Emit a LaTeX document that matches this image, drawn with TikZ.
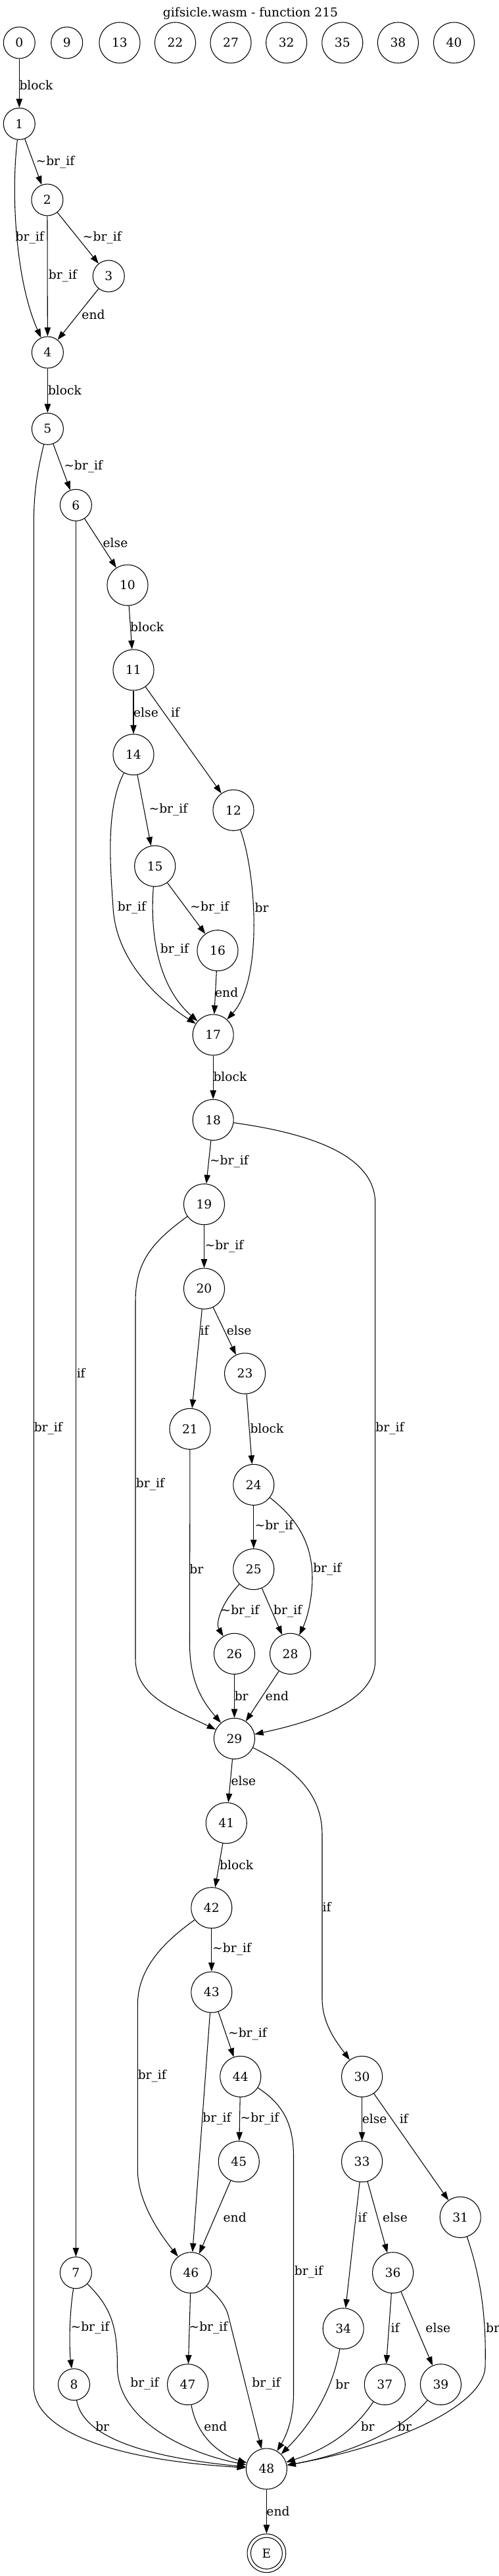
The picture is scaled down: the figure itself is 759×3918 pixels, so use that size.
\documentclass[tikz,border=0pt]{standalone}
\usepackage{fontspec}
\setmainfont{DejaVu Serif}
\usetikzlibrary{arrows.meta}

\newcommand{\nbrif}{\textasciitilde br\_if}
\newcommand{\brif}{br\_if}

\begin{document}
\begin{tikzpicture}[
        x=0.75pt, y=0.75pt,
        font=\fontsize{14pt}{16pt}\selectfont,
        blk/.style={circle,draw,line width=0.8pt,minimum size=36pt,inner sep=0pt},
        blkw/.style={blk,minimum size=46.5pt},
        lbl/.style={inner sep=0pt},
        edge/.style={line width=0.8pt,-{Triangle[length=10pt,width=7pt]}}
    ]
    \useasboundingbox (0,0) rectangle (759,-3918);
    \node[lbl] (title) at (381,-20) {gifsicle.wasm - function 215};

    % blocks
    \node[blk]  (n0)  at (29.3,-65)  {0};
    \node[blk]  (n9)  at (101.7,-65) {9};
    \node[blkw] (n13) at (182,-65)   {13};
    \node[blkw] (n22) at (266.5,-65) {22};
    \node[blkw] (n27) at (351,-65)   {27};
    \node[blkw] (n32) at (435.7,-65) {32};
    \node[blkw] (n35) at (520.8,-65) {35};
    \node[blkw] (n38) at (605.4,-65) {38};
    \node[blkw] (n40) at (690.5,-65) {40};
    \node[blk]  (n1)  at (29.3,-188.3)  {1};
    \node[blk]  (n2)  at (71.9,-304)    {2};
    \node[blk]  (n3)  at (165.3,-420)   {3};
    \node[blk]  (n4)  at (72.4,-536)    {4};
    \node[blk]  (n5)  at (72.4,-652.3)  {5};
    \node[blk]  (n6)  at (115.4,-768.3) {6};
    \node[blkw] (n10) at (194,-890)     {10};
    \node[blkw] (n11) at (203,-1019)    {11};
    \node[blkw] (n14) at (203,-1147.7)  {14};
    \node[blkw] (n12) at (355,-1232.3)  {12};
    \node[blkw] (n15) at (235.7,-1317.3) {15};
    \node[blkw] (n16) at (331,-1445.7)  {16};
    \node[blkw] (n17) at (324.2,-1574)  {17};
    \node[blkw] (n18) at (324.2,-1703.3) {18};
    \node[blkw] (n19) at (310.5,-1831.7) {19};
    \node[blkw] (n20) at (310.5,-1960)  {20};
    \node[blkw] (n23) at (372.6,-2089)  {23};
    \node[blkw] (n21) at (289,-2173.3)  {21};
    \node[blkw] (n24) at (385.8,-2258.3) {24};
    \node[blkw] (n25) at (385.8,-2386.7) {25};
    \node[blkw] (n26) at (356.5,-2515.3) {26};
    \node[blkw] (n28) at (441.6,-2515.3) {28};
    \node[blkw] (n29) at (356.5,-2644.3) {29};
    \node[blkw] (n41) at (344.3,-2772.7) {41};
    \node[blkw] (n42) at (321.8,-2901.7) {42};
    \node[blkw] (n43) at (321.8,-3030)  {43};
    \node[blkw] (n44) at (365.8,-3158.3) {44};
    \node[blkw] (n30) at (550.6,-3158.3) {30};
    \node[blkw] (n45) at (363.3,-3287.7) {45};
    \node[blkw] (n33) at (550.6,-3287.7) {33};
    \node[blkw] (n31) at (700.2,-3372.3) {31};
    \node[blk]  (n7)  at (115.4,-3456.7) {7};
    \node[blkw] (n46) at (290.5,-3456.7) {46};
    \node[blkw] (n36) at (597.6,-3456.7) {36};
    \node[blkw] (n34) at (522.2,-3541.7) {34};
    \node[blk]  (n8)  at (112.5,-3626.7) {8};
    \node[blkw] (n47) at (285.6,-3626.7) {47};
    \node[blkw] (n37) at (585.3,-3626.7) {37};
    \node[blkw] (n39) at (670.4,-3626.7) {39};
    \node[blkw] (n48) at (405.4,-3755)  {48};
    \node[blk,minimum size=44pt] (E) at (405.4,-3883.3) {E};
    \draw[line width=0.8pt] (E.center) circle (18pt);

    % edges
    \draw[edge] (n0) -- (n1);
    \draw[edge] (n1) -- (n2);
    \draw[edge] (n1) .. controls (16,-300) and (25,-430) .. (n4);
    \draw[edge] (n2) -- (n4);
    \draw[edge] (n2) -- (n3);
    \draw[edge] (n3) -- (n4);
    \draw[edge] (n4) -- (n5);
    \draw[edge] (n5) -- (n6);
    \draw[edge] (n5) .. controls (56,-720) and (51.3,-750) .. (51.3,-800) -- (51.3,-3630)
        .. controls (51.3,-3690) and (150,-3740) .. (n48);
    \draw[edge] (n6) -- (n10);
    \draw[edge] (n6) -- (n7);
    \draw[edge] (n10) -- (n11);
    \draw[edge] (n11) -- (n14);
    \draw[edge] (n11) -- (n12);
    \draw[edge] (n14) -- (n15);
    \draw[edge] (n14) .. controls (160,-1230) and (168,-1320) .. (172,-1380)
        .. controls (176,-1460) and (240,-1520) .. (n17);
    \draw[edge] (n15) .. controls (228,-1420) and (240,-1500) .. (n17);
    \draw[edge] (n15) -- (n16);
    \draw[edge] (n16) -- (n17);
    \draw[edge] (n12) .. controls (390,-1330) and (400,-1490) .. (n17);
    \draw[edge] (n17) -- (n18);
    \draw[edge] (n18) -- (n19);
    \draw[edge] (n18) .. controls (480,-1725) and (570.7,-1760) .. (570.7,-1830) -- (570.7,-2526)
        .. controls (570.7,-2590) and (470,-2620) .. (n29);
    \draw[edge] (n19) -- (n20);
    \draw[edge] (n19) .. controls (230,-1890) and (206,-1920) .. (206,-1980) -- (206,-2523)
        .. controls (206,-2580) and (265,-2600) .. (n29);
    \draw[edge] (n20) -- (n21);
    \draw[edge] (n20) -- (n23);
    \draw[edge] (n21) -- (288.5,-2500) .. controls (288.5,-2560) and (310,-2590) .. (n29);
    \draw[edge] (n23) -- (n24);
    \draw[edge] (n24) -- (n25);
    \draw[edge] (n24) .. controls (445,-2305) and (475,-2340) .. (475,-2400)
        .. controls (475,-2430) and (468,-2460) .. (n28);
    \draw[edge] (n25) .. controls (335,-2440) and (328,-2470) .. (n26);
    \draw[edge] (n25) -- (n28);
    \draw[edge] (n26) -- (n29);
    \draw[edge] (n28) -- (n29);
    \draw[edge] (n29) -- (n41);
    \draw[edge] (n29) .. controls (450,-2690) and (490,-2730) .. (490,-2790) -- (490,-3040)
        .. controls (490,-3080) and (515,-3110) .. (n30);
    \draw[edge] (n41) -- (n42);
    \draw[edge] (n42) -- (n43);
    \draw[edge] (n42) .. controls (240,-2960) and (209.3,-3000) .. (209.3,-3050) -- (209.3,-3300)
        .. controls (209.3,-3350) and (245,-3400) .. (n46);
    \draw[edge] (n43) -- (n44);
    \draw[edge] (n43) -- (n46);
    \draw[edge] (n44) -- (n45);
    \draw[edge] (n44) .. controls (430,-3200) and (446.5,-3230) .. (446.5,-3280) -- (446.5,-3640)
        .. controls (446.5,-3680) and (435,-3705) .. (n48);
    \draw[edge] (n45) -- (n46);
    \draw[edge] (n30) -- (n33);
    \draw[edge] (n30) -- (n31);
    \draw[edge] (n33) -- (n34);
    \draw[edge] (n33) -- (n36);
    \draw[edge] (n31) .. controls (730,-3460) and (740,-3520) .. (738,-3600)
        .. controls (735,-3660) and (600,-3720) .. (n48);
    \draw[edge] (n7) .. controls (104,-3530) and (106,-3580) .. (n8);
    \draw[edge] (n7) .. controls (170,-3510) and (178.5,-3540) .. (178.5,-3600)
        .. controls (178.5,-3680) and (280,-3730) .. (n48);
    \draw[edge] (n46) -- (n47);
    \draw[edge] (n46) .. controls (335,-3495) and (345,-3510) .. (348,-3525) -- (n48);
    \draw[edge] (n34) .. controls (505,-3640) and (470,-3690) .. (n48);
    \draw[edge] (n36) -- (n37);
    \draw[edge] (n36) -- (n39);
    \draw[edge] (n8) .. controls (125,-3700) and (200,-3735) .. (n48);
    \draw[edge] (n47) .. controls (300,-3710) and (340,-3735) .. (n48);
    \draw[edge] (n37) .. controls (530,-3710) and (480,-3730) .. (n48);
    \draw[edge] (n39) .. controls (600,-3710) and (500,-3738) .. (n48);
    \draw[edge] (n48) -- (E);

    % edge labels
    \node[lbl] (lb0-1)   at (55,-130)      {block};
    \node[lbl] (lb1-2)   at (84,-246.7)    {\nbrif};
    \node[lbl] (lb1-4)   at (45.2,-361.7)  {\brif};
    \node[lbl] (lb2-3)   at (155.3,-361.7) {\nbrif};
    \node[lbl] (lb2-4)   at (95.4,-420)    {\brif};
    \node[lbl] (lb3-4)   at (142,-478.3)   {end};
    \node[lbl] (lb4-5)   at (98.5,-593.3)  {block};
    \node[lbl] (lb5-6)   at (126.7,-710)   {\nbrif};
    \node[lbl] (lb6-10)  at (175.5,-826)   {else};
    \node[lbl] (lb10-11) at (223.7,-954)   {block};
    \node[lbl] (lb11-14) at (222,-1083.3)  {else};
    \node[lbl] (lb11-12) at (266.5,-1083.3) {if};
    \node[lbl] (lb14-15) at (256,-1231.7)  {\nbrif};
    \node[lbl] (lb12-17) at (398,-1381)    {br};
    \node[lbl] (lb14-17) at (200.5,-1381)  {\brif};
    \node[lbl] (lb15-16) at (318.8,-1381)  {\nbrif};
    \node[lbl] (lb15-17) at (265.5,-1445)  {\brif};
    \node[lbl] (lb16-17) at (344.7,-1510)  {end};
    \node[lbl] (lb17-18) at (350,-1637.7)  {block};
    \node[lbl] (lb18-19) at (348.4,-1766.7) {\nbrif};
    \node[lbl] (lb19-20) at (341,-1895.7)  {\nbrif};
    \node[lbl] (lb20-21) at (311,-2023.3)  {if};
    \node[lbl] (lb20-23) at (363.6,-2024)  {else};
    \node[lbl] (lb6-7)   at (123.2,-2088.3) {if};
    \node[lbl] (lb5-48)  at (73.3,-2172.7) {\brif};
    \node[lbl] (lb23-24) at (406,-2172.7)  {block};
    \node[lbl] (lb18-29) at (593,-2172.7)  {\brif};
    \node[lbl] (lb19-29) at (228.4,-2257.7) {\brif};
    \node[lbl] (lb24-25) at (417,-2321.7)  {\nbrif};
    \node[lbl] (lb21-29) at (298.8,-2386.7) {br};
    \node[lbl] (lb24-28) at (497.8,-2386.7) {\brif};
    \node[lbl] (lb25-26) at (365,-2451)    {\nbrif};
    \node[lbl] (lb25-28) at (437.7,-2451)  {\brif};
    \node[lbl] (lb26-29) at (367.2,-2580)  {br};
    \node[lbl] (lb28-29) at (421.5,-2580)  {end};
    \node[lbl] (lb29-41) at (370.4,-2708.3) {else};
    \node[lbl] (lb41-42) at (359.7,-2836.7) {block};
    \node[lbl] (lb29-30) at (497,-2900)    {if};
    \node[lbl] (lb42-43) at (352.6,-2964.3) {\nbrif};
    \node[lbl] (lb43-44) at (376.5,-3093.3) {\nbrif};
    \node[lbl] (lb42-46) at (231.3,-3157.7) {\brif};
    \node[lbl] (lb43-46) at (330,-3222.7)  {\brif};
    \node[lbl] (lb44-45) at (395,-3222.7)  {\nbrif};
    \node[lbl] (lb30-33) at (569.7,-3222.7) {else};
    \node[lbl] (lb30-31) at (614.2,-3222.7) {if};
    \node[lbl] (lb45-46) at (357.2,-3372.3) {end};
    \node[lbl] (lb33-34) at (551,-3372.3)  {if};
    \node[lbl] (lb33-36) at (601,-3372.3)  {else};
    \node[lbl] (lb44-48) at (469.4,-3456)  {\brif};
    \node[lbl] (lb7-8)   at (137,-3540.7)  {\nbrif};
    \node[lbl] (lb46-47) at (317,-3540.7)  {\nbrif};
    \node[lbl] (lb36-37) at (601,-3540.7)  {if};
    \node[lbl] (lb36-39) at (666.3,-3540.7) {else};
    \node[lbl] (lb31-48) at (749.6,-3540.7) {br};
    \node[lbl] (lb7-48)  at (220,-3626)    {\brif};
    \node[lbl] (lb46-48) at (405,-3626)    {\brif};
    \node[lbl] (lb34-48) at (520.8,-3626)  {br};
    \node[lbl] (lb8-48)  at (155.7,-3690)  {br};
    \node[lbl] (lb47-48) at (327.9,-3690)  {end};
    \node[lbl] (lb37-48) at (559.2,-3690)  {br};
    \node[lbl] (lb39-48) at (615.4,-3690)  {br};
    \node[lbl] (lb48-E)  at (423,-3819)    {end};
\end{tikzpicture}
\end{document}
